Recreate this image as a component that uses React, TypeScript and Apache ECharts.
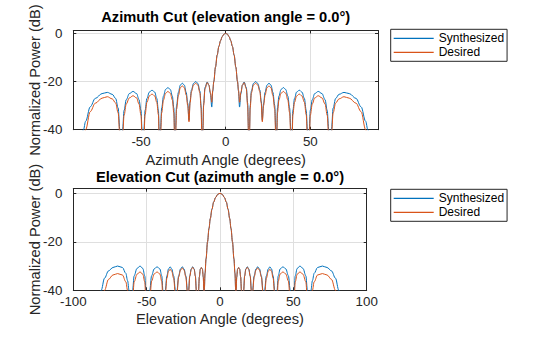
import React, { useEffect, useRef } from "react";
import * as echarts from "echarts";

// ---------- Azimuth cut (elevation angle = 0.0°) ----------
const azAngle = [
  -87, -84, -82.7, -80, -77, -73, -69.9, -67, -65, -63.5, -62.5, -61.7,
  -60.9, -60.0, -58.7, -56.9, -54.7, -52.6, -51.2, -50.0, -49.4, -48.9,
  -48.3, -47.6, -46.5, -45.1, -43.5, -41.9, -40.7, -39.7, -39.3, -39.0,
  -38.5, -37.8, -36.7, -35.5, -34.1, -32.7, -31.5, -30.6, -30.2, -29.95,
  -29.6, -29.0, -27.9, -26.8, -25.6, -24.4, -23.3, -22.4, -21.65,
  -21.0, -20.2, -19.0, -17.7, -16.4, -15.2, -14.5, -14.1, -13.8,
  -13.5, -13.0, -12.2, -10.9, -9.9, -9.0, -8.2,
  -7.6, -7.0, -6.0, -5.0, -4.0, -3.0, -2.0, -1.0, 0,
  1.0, 2.0, 3.0, 4.0, 5.0, 6.0, 7.0, 7.6,
  8.2, 9.0, 9.9, 10.9, 12.2, 13.0, 13.5,
  13.8, 14.1, 14.5, 15.2, 16.4, 17.7, 19.0, 20.2, 21.0,
  21.65, 22.4, 23.3, 24.4, 25.6, 26.8, 27.9, 29.0, 29.6,
  29.95, 30.2, 30.6, 31.5, 32.7, 34.1, 35.5, 36.7, 37.8, 38.5,
  39.0, 39.3, 39.7, 40.7, 41.9, 43.5, 45.1, 46.5, 47.6, 48.3,
  48.9, 49.4, 50.0, 51.2, 52.6, 54.7, 56.9, 58.7, 60.0, 60.9,
  61.7, 62.5, 63.5, 65, 67, 69.9, 73, 77, 80, 82.7, 84, 87,
];
const azSynth = [
  -60, -40, -36.5, -30.5, -27, -25, -24.5, -25.3, -27, -31, -40, -60,
  -40, -32, -27.5, -25, -24.1, -25, -27.5, -32, -40, -60,
  -40, -32, -27, -24.4, -23.6, -24.4, -27, -32, -40, -60,
  -40, -31, -26, -23.3, -22.5, -23.3, -26, -31, -40, -60,
  -40, -30, -24.5, -21.5, -20.7, -21.5, -24.5, -29, -36.1,
  -28, -23.5, -20.8, -20, -20.8, -24, -30, -40, -60,
  -40, -29, -22.5, -20.2, -21.5, -25, -30.6,
  -24, -20, -14, -9, -5.4, -3, -1.3, -0.3, 0,
  -0.3, -1.3, -3, -5.4, -9, -14, -20, -24,
  -30.6, -25, -21.5, -20.2, -22.5, -29, -40,
  -60, -40, -30, -24, -20.8, -20, -20.8, -23.5, -28,
  -36.1, -29, -24.5, -21.5, -20.7, -21.5, -24.5, -30, -40,
  -60, -40, -31, -26, -23.3, -22.5, -23.3, -26, -31, -40,
  -60, -40, -32, -27, -24.4, -23.6, -24.4, -27, -32, -40,
  -60, -40, -32, -27.5, -25, -24.1, -25, -27.5, -32, -40,
  -60, -40, -31, -27, -25.3, -24.5, -25, -27, -30.5, -36.5, -40, -60,
];
const azDesired = [
  -60, -44, -40, -32.5, -29, -26.9, -26.3, -27.2, -28.9, -33, -42.5, -60,
  -43, -34, -29.3, -26.8, -25.9, -26.8, -29.3, -34, -43, -60,
  -43, -33.8, -28.6, -26, -25.2, -26, -28.6, -33.8, -43, -60,
  -43, -33, -27.6, -24.9, -24.1, -24.9, -27.6, -33, -43, -60,
  -43, -31.5, -25.8, -22.6, -21.8, -22.6, -25.6, -30, -36.7,
  -28.8, -24.2, -21.5, -20.7, -21.5, -24.7, -31, -42, -60,
  -42, -30, -23, -20.4, -21.5, -24.5, -28.6,
  -23.6, -20, -14, -9, -5.4, -3, -1.3, -0.3, 0,
  -0.3, -1.3, -3, -5.4, -9, -14, -20, -23.6,
  -28.6, -24.5, -21.5, -20.4, -23, -30, -42,
  -60, -42, -31, -24.7, -21.5, -20.7, -21.5, -24.2, -28.8,
  -36.7, -30, -25.6, -22.6, -21.8, -22.6, -25.8, -31.5, -43,
  -60, -43, -33, -27.6, -24.9, -24.1, -24.9, -27.6, -33, -43,
  -60, -43, -33.8, -28.6, -26, -25.2, -26, -28.6, -33.8, -43,
  -60, -43, -34, -29.3, -26.8, -25.9, -26.8, -29.3, -34, -43,
  -60, -42.5, -33, -28.9, -27.2, -26.3, -26.9, -29, -32.5, -40, -44, -60,
];

// ---------- Elevation cut (azimuth angle = 0.0°) ----------
const elAngle = [
  -84, -81, -78.7, -76, -73, -69.8, -66.5, -64.2, -63, -62, -61,
  -59.6, -58.5, -56.6, -54.5, -52.6, -51.3, -50.5, -49.5,
  -47.9, -46.6, -44.9, -42.9, -41.0, -39.7, -38.9, -38.2,
  -37.3, -36.2, -35.1, -34.0, -32.9, -31.6, -30.4, -29.9,
  -29.3, -28.2, -26.9, -25.7, -24.5, -23.3, -22.2, -21.8,
  -21.4, -20.6, -19.6, -18.6, -17.6, -16.8, -16.1, -15.4,
  -14.6, -14.1, -13.4, -12.7, -12.0, -11.4, -11.05, -10.85,
  -10.7, -10.2, -9.5, -8.5, -7.5, -6.6, -5.5, -4.3, -3.0, -1.5, 0,
  1.5, 3.0, 4.3, 5.5, 6.6, 7.5, 8.5, 9.5, 10.2, 10.7,
  10.85, 11.05, 11.4, 12.0, 12.7, 13.4, 14.1, 14.6,
  15.4, 16.1, 16.8, 17.6, 18.6, 19.6, 20.6, 21.4,
  21.8, 22.2, 23.3, 24.5, 25.7, 26.9, 28.2, 29.3,
  29.9, 30.4, 31.6, 32.9, 34.0, 35.1, 36.2, 37.3,
  38.2, 38.9, 39.7, 41.0, 42.9, 44.9, 46.6, 47.9,
  49.5, 50.5, 51.3, 52.6, 54.5, 56.6, 58.5, 59.6,
  61, 62, 63, 64.2, 66.5, 69.8, 73, 76, 78.7, 81, 84,
];
const elSynth = [
  -60, -40, -35, -32, -30.6, -30, -30.6, -33, -36, -40, -60,
  -40, -34, -31, -30, -31, -34, -40, -60,
  -40, -34, -31.2, -30.3, -31.2, -34, -40, -60,
  -40, -34, -31.2, -30.3, -31.2, -34, -40, -60,
  -40, -34, -31.2, -30.3, -31.2, -34, -40, -60,
  -40, -34, -31.2, -30.3, -31.2, -34, -40, -60,
  -40, -34.5, -31.3, -30.6, -31.3, -34.5, -40, -55,
  -40, -33, -27, -20, -14.5, -10.4, -6.6, -3.6, -1.7, -0.4, 0,
  -0.4, -1.7, -3.6, -6.6, -10.4, -14.5, -20, -27, -33, -40,
  -55, -40, -34.5, -31.3, -30.6, -31.3, -34.5, -40,
  -60, -40, -34, -31.2, -30.3, -31.2, -34, -40,
  -60, -40, -34, -31.2, -30.3, -31.2, -34, -40,
  -60, -40, -34, -31.2, -30.3, -31.2, -34, -40,
  -60, -40, -34, -31.2, -30.3, -31.2, -34, -40,
  -60, -40, -34, -31, -30, -31, -34, -40,
  -60, -40, -36, -33, -30.6, -30, -30.6, -32, -35, -40, -60,
];
const elDesired = [
  -60, -46, -40, -35.5, -33.7, -33.1, -33.7, -36.5, -40, -46, -60,
  -44, -36.5, -33.4, -32.4, -33.4, -36.5, -44, -60,
  -44, -36.2, -33.3, -32.4, -33.3, -36.2, -44, -60,
  -42, -35, -32.2, -31.3, -32.2, -35, -42, -60,
  -41, -34.5, -31.7, -30.8, -31.7, -34.5, -41, -60,
  -40.5, -34.2, -31.4, -30.5, -31.4, -34.2, -40.5, -60,
  -40, -34.5, -31.3, -30.6, -31.3, -34.5, -40, -55,
  -40, -33, -27, -20, -14.5, -10.4, -6.6, -3.6, -1.7, -0.4, 0,
  -0.4, -1.7, -3.6, -6.6, -10.4, -14.5, -20, -27, -33, -40,
  -55, -40, -34.5, -31.3, -30.6, -31.3, -34.5, -40,
  -60, -40.5, -34.2, -31.4, -30.5, -31.4, -34.2, -40.5,
  -60, -41, -34.5, -31.7, -30.8, -31.7, -34.5, -41,
  -60, -42, -35, -32.2, -31.3, -32.2, -35, -42,
  -60, -44, -36.2, -33.3, -32.4, -33.3, -36.2, -44,
  -60, -44, -36.5, -33.4, -32.4, -33.4, -36.5, -44,
  -60, -46, -40, -36.5, -33.7, -33.1, -33.7, -35.5, -40, -46, -60,
];

// ---------- Ticks & labels ----------
const azXTicks = [-50, 0, 50];
const elXTicks = [-100, -50, 0, 50, 100];
const yTicks = [-40, -20, 0];
const seriesNames = ["Synthesized", "Desired"];
const titles = [
  "Azimuth Cut (elevation angle = 0.0°)",
  "Elevation Cut (azimuth angle = 0.0°)",
];
const xNames = ["Azimuth Angle (degrees)", "Elevation Angle (degrees)"];
const yName = "Normalized Power (dB)";

const BLUE = "#0072BD";
const ORANGE = "#D95319";
const AX = "#262626";
const GRIDC = "#dfdfdf";
const FONT = "'Liberation Sans', Arial, Helvetica, sans-serif";

function zip(a: number[], b: number[]) {
  return a.map((x, i) => [x, b[i]]);
}

export default function App() {
  const ref = useRef<HTMLDivElement>(null);
  useEffect(() => {
    const chart = echarts.init(ref.current!, null, { renderer: "svg" });

    const xMain = (grid: number, min: number, max: number, ticks: number[], name: string, gap: number) => ({
      type: "value",
      gridIndex: grid,
      position: "bottom",
      min,
      max,
      name,
      nameLocation: "middle",
      nameGap: gap,
      nameMoveOverlap: false,
      nameTextStyle: { fontSize: 14.67, color: AX, fontFamily: FONT },
      axisLine: { show: true, onZero: false, lineStyle: { color: AX, width: 1 } },
      axisTick: { show: true, inside: true, length: 3, customValues: ticks, lineStyle: { color: AX } },
      axisLabel: { show: true, customValues: ticks, margin: 5, fontSize: 13.33, color: AX, fontFamily: FONT },
      splitLine: { show: true, lineStyle: { color: GRIDC, width: 1 } },
    });
    const xTop = (grid: number, min: number, max: number, ticks: number[]) => ({
      type: "value",
      gridIndex: grid,
      position: "top",
      min,
      max,
      axisLine: { show: true, onZero: false, lineStyle: { color: AX, width: 1 } },
      axisTick: { show: true, inside: true, length: 3, customValues: ticks, lineStyle: { color: AX } },
      axisLabel: { show: false },
      splitLine: { show: false },
    });
    const yMain = (grid: number, max: number) => ({
      type: "value",
      gridIndex: grid,
      position: "left",
      min: -40,
      max,
      name: yName,
      nameLocation: "middle",
      nameRotate: 90,
      nameGap: 30.5,
      nameMoveOverlap: false,
      nameTextStyle: { fontSize: 14.67, color: AX, fontFamily: FONT },
      axisLine: { show: true, onZero: false, lineStyle: { color: AX, width: 1 } },
      axisTick: { show: true, inside: true, length: 3, customValues: yTicks, lineStyle: { color: AX } },
      axisLabel: { show: true, customValues: yTicks, margin: 11, fontSize: 13.33, color: AX, fontFamily: FONT },
      splitLine: { show: true, lineStyle: { color: GRIDC, width: 1 } },
    });
    const yRight = (grid: number, max: number) => ({
      type: "value",
      gridIndex: grid,
      position: "right",
      min: -40,
      max,
      axisLine: { show: true, onZero: false, lineStyle: { color: AX, width: 1 } },
      axisTick: { show: true, inside: true, length: 3, customValues: yTicks, lineStyle: { color: AX } },
      axisLabel: { show: false },
      splitLine: { show: false },
    });

    const line = (name: string, color: string, xi: number, yi: number, data: number[][], z: number) => ({
      type: "line",
      name,
      xAxisIndex: xi,
      yAxisIndex: yi,
      data,
      showSymbol: false,
      symbol: "none",
      smooth: 0.35,
      smoothMonotone: "x",
      clip: true,
      z,
      lineStyle: { color, width: 1 },
      itemStyle: { color },
    });

    const legend = (top: number) => ({
      data: seriesNames.map((n) => ({ name: n, icon: "rect" })),
      orient: "vertical",
      left: 390.7,
      top,
      itemWidth: 40,
      itemHeight: 1.2,
      itemGap: 2,
      padding: [3, 3, 3, 3],
      borderColor: AX,
      borderWidth: 1,
      borderRadius: 0,
      backgroundColor: "#ffffff",
      selectedMode: false,
      textStyle: { fontSize: 12, color: "#000", fontFamily: FONT },
    });

    const option: any = {
      animation: false,
      textStyle: { fontFamily: FONT },
      title: [
        {
          text: titles[0],
          left: 225.7,
          top: 9.5,
          textAlign: "center",
          padding: 0,
          textStyle: { fontSize: 14.67, fontWeight: "bold", color: "#000", fontFamily: FONT },
        },
        {
          text: titles[1],
          left: 220,
          top: 169,
          textAlign: "center",
          padding: 0,
          textStyle: { fontSize: 14.67, fontWeight: "bold", color: "#000", fontFamily: FONT },
        },
      ],
      legend: [legend(29.3), legend(189.3)],
      grid: [
        { left: 73.3, top: 30.5, width: 304.7, height: 99.2, outerBoundsMode: "none", containLabel: false },
        { left: 73.3, top: 188.7, width: 293.4, height: 101.6, outerBoundsMode: "none", containLabel: false },
      ],
      xAxis: [
        xMain(0, -90, 90, azXTicks, xNames[0], 23),
        xTop(0, -90, 90, azXTicks),
        xMain(1, -100, 100, elXTicks, xNames[1], 21),
        xTop(1, -100, 100, elXTicks),
      ],
      yAxis: [yMain(0, 1.2), yRight(0, 1.2), yMain(1, 1.9), yRight(1, 1.9)],
      series: [
        line(seriesNames[0], BLUE, 0, 0, zip(azAngle, azSynth), 2),
        line(seriesNames[1], ORANGE, 0, 0, zip(azAngle, azDesired), 3),
        line(seriesNames[0], BLUE, 2, 2, zip(elAngle, elSynth), 2),
        line(seriesNames[1], ORANGE, 2, 2, zip(elAngle, elDesired), 3),
      ],
    };
    chart.setOption(option);
    return () => chart.dispose();
  }, []);
  return (
    <div
      ref={ref}
      style={{ position: "absolute", left: 0, top: 0, width: 560, height: 337, background: "#fff" }}
    />
  );
}
